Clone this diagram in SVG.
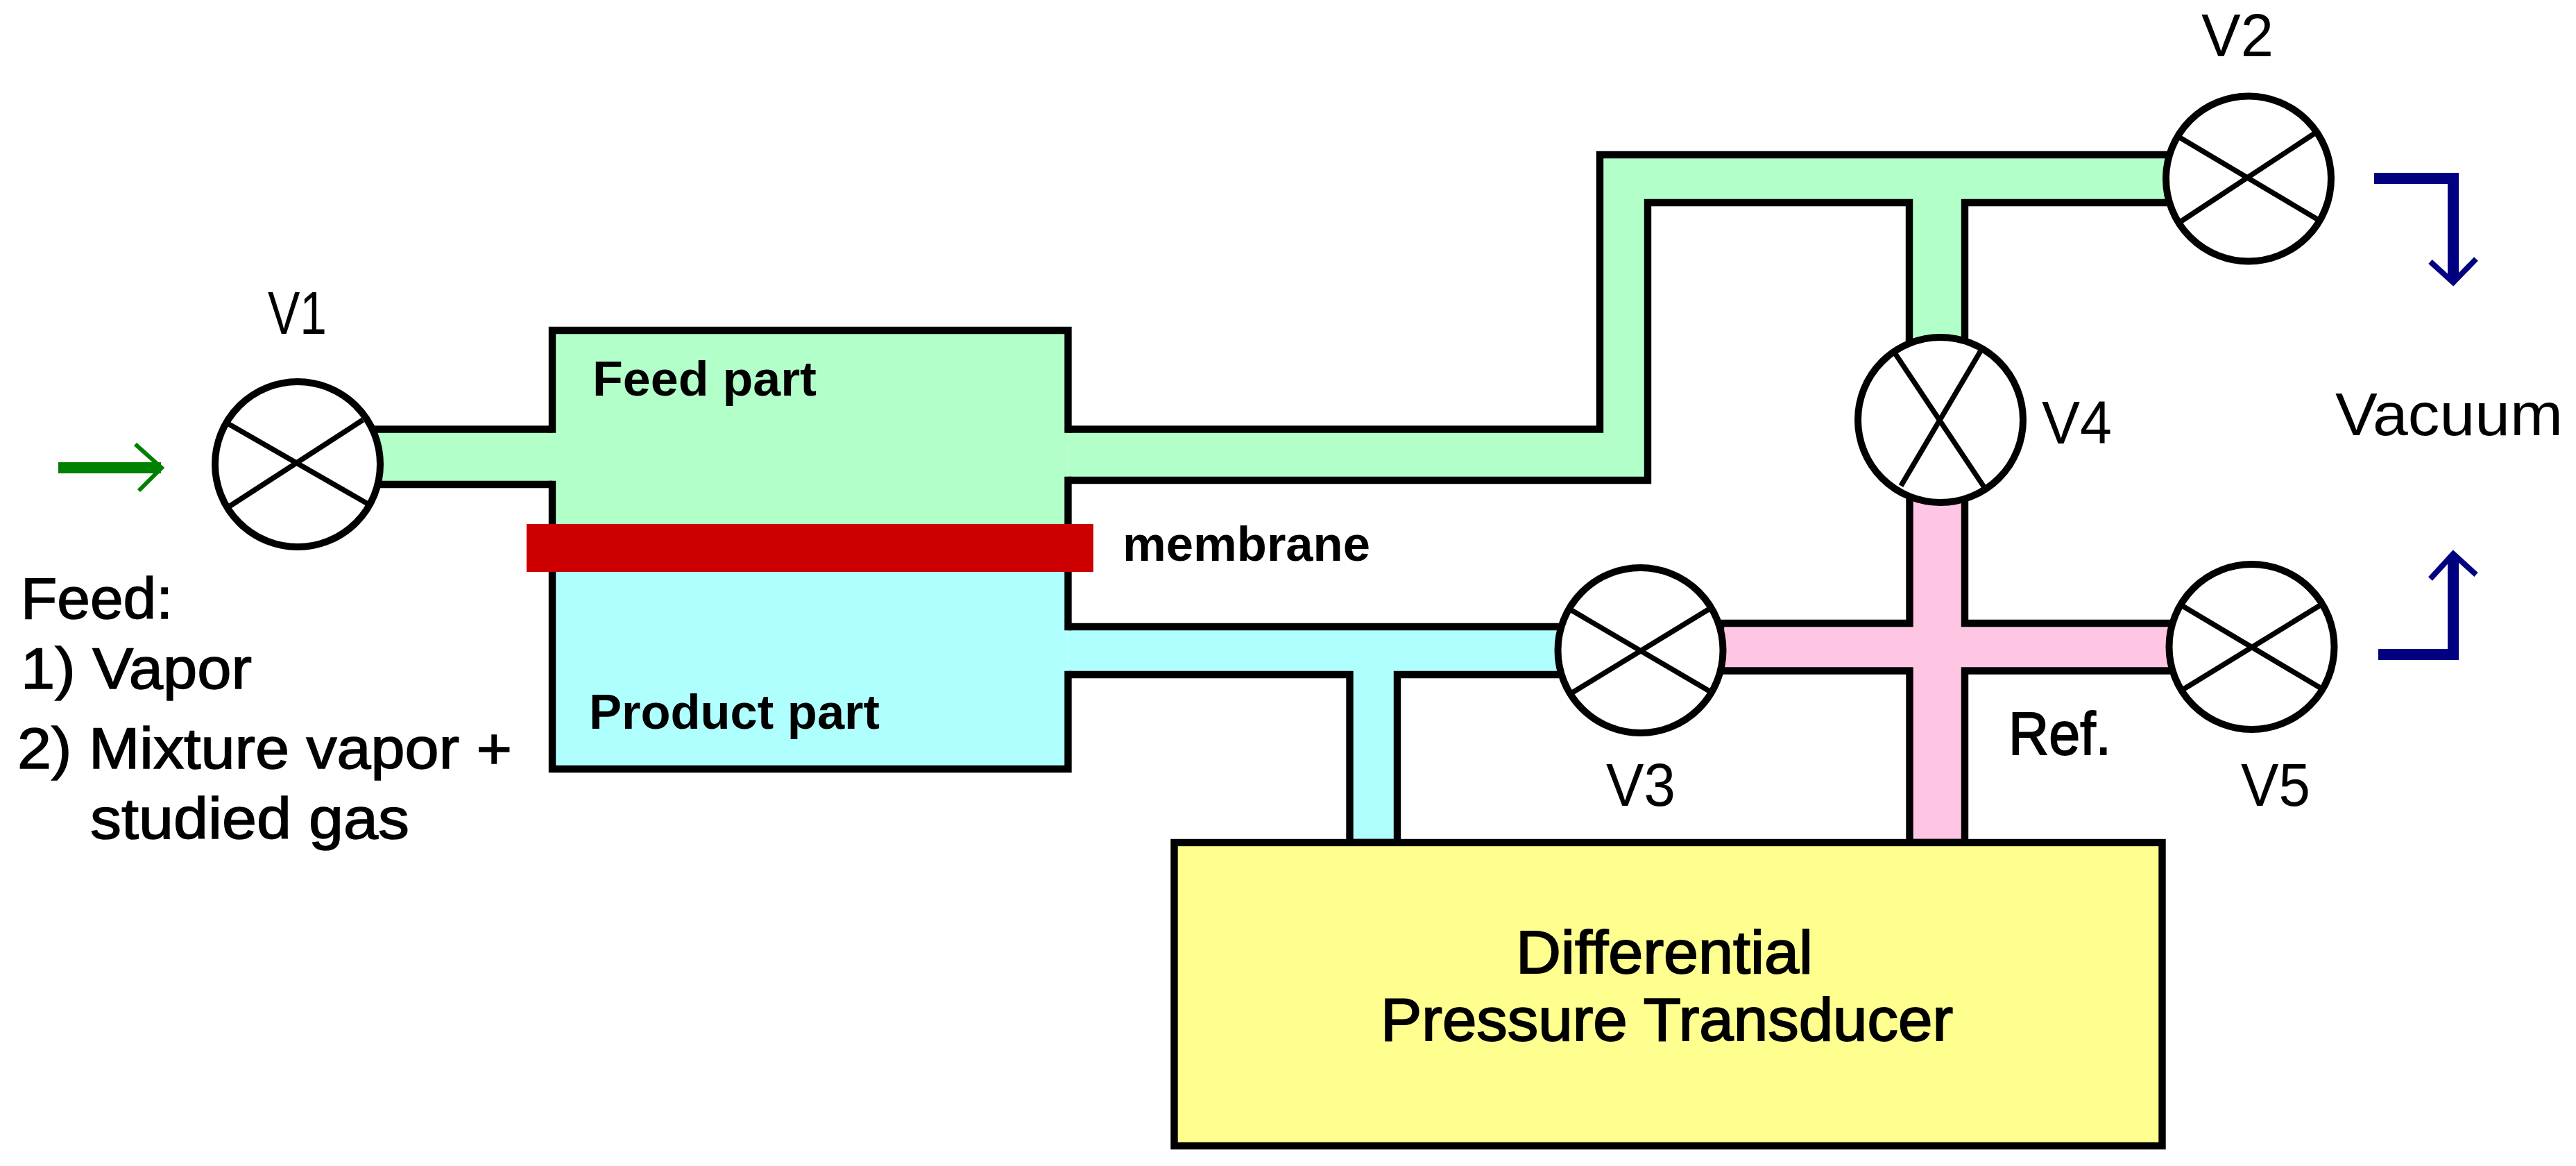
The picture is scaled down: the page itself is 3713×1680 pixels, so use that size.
<svg xmlns="http://www.w3.org/2000/svg" width="3713" height="1680" viewBox="0 0 3713 1680">
<style>
text{font-family:"Liberation Sans",Arial,sans-serif;fill:#000}
.l{font-size:88px}.f{font-size:84px;stroke:#000;stroke-width:1.5px}.b{font-size:70px;font-weight:bold}.d{font-size:88px;stroke:#000;stroke-width:2px}
.pipe{stroke:#000;stroke-width:10.4;stroke-linejoin:miter}
.line{fill:none;stroke:#000;stroke-width:10.4}
.valve circle{fill:#fff;stroke:#000;stroke-width:10}
.valve path{fill:none;stroke:#000;stroke-width:7.5}
.g{fill:#B3FFC9}.c{fill:#B0FFFF}.p{fill:#FFC6E3}
.blue{fill:none;stroke:#000080}.green{fill:none;stroke:#008000}
</style>
<rect width="3713" height="1680" fill="#fff"/>
<g id="connectors">
<path class="pipe g" d="M796,618.5 H530 V698 H796"/>
<path class="pipe g" d="M1539.5,618.5 H2306 V223 H3160 V292 H2832 V500 H2752 V292 H2375 V692 H1539.5"/>
<path class="pipe c" d="M1539.5,903 H2260 V972 H2014 V1214 H1945.5 V972 H1539.5"/>
<path class="pipe p" d="M2480,898 H2752.5 V700 H2832 V898 H3140 V966.5 H2832 V1214 H2752.5 V966.5 H2480 Z"/>
<path class="green" stroke-width="16" d="M84,674 H232"/>
<path class="green" stroke-width="6" d="M195,640 L233,674 L200,707"/>
<path class="blue" stroke-width="16" d="M3422,257 H3536 V405"/>
<path class="blue" stroke-width="8" d="M3503,377 L3536,407 L3569,373"/>
<path class="blue" stroke-width="16" d="M3428,943 H3536 V800"/>
<path class="blue" stroke-width="8" d="M3503,834 L3536,798 L3569,828"/>
</g>
<g id="chamber">
<rect class="g" x="796" y="476" width="743.500" height="314"/>
<rect class="c" x="796" y="790" width="743.500" height="318"/>
<path class="line" d="M796,623.700 V476 H1539.500 V623.700 M1539.500,686.800 V790 M796,692.800 V790 M796,790 V1108 H1539.500 V966.800 M1539.500,908.200 V790"/>
<text class="b" x="854" y="570" textLength="323" lengthAdjust="spacingAndGlyphs">Feed part</text>
<text class="b" x="849" y="1050" textLength="419" lengthAdjust="spacingAndGlyphs">Product part</text>
</g>
<g id="membrane">
<rect x="759" y="755" width="817" height="69" fill="#CC0000"/>
<text class="b" x="1618" y="808" textLength="357" lengthAdjust="spacingAndGlyphs">membrane</text>
</g>
<g id="transducer">
<rect x="1692.500" y="1214" width="1424" height="437" fill="#FFFF8F" stroke="#000" stroke-width="10.400"/>
<text class="d" x="2185" y="1402" textLength="428" lengthAdjust="spacingAndGlyphs">Differential</text>
<text class="d" x="1990" y="1499" textLength="825" lengthAdjust="spacingAndGlyphs">Pressure Transducer</text>
</g>
<g id="V1" class="valve"><circle cx="429" cy="669" r="119"/><path d="M328,610 L532,727 M330,730 L523,605"/><text class="l" x="386" y="481" textLength="85" lengthAdjust="spacingAndGlyphs">V1</text></g>
<g id="V2" class="valve"><circle cx="3241" cy="257.500" r="119"/><path d="M3140,197 L3342,317 M3142,320 L3338,191"/><text class="l" x="3173" y="81" textLength="104" lengthAdjust="spacingAndGlyphs">V2</text></g>
<g id="V3" class="valve"><circle cx="2364.500" cy="937" r="119"/><path d="M2263,878 L2466,997 M2263,1000 L2466,876"/><text class="l" x="2315" y="1161" textLength="100" lengthAdjust="spacingAndGlyphs">V3</text></g>
<g id="V4" class="valve"><circle cx="2797" cy="605" r="119"/><path d="M2732,510 L2860,702 M2740,700 L2857,502"/><text class="l" x="2943" y="639" textLength="101" lengthAdjust="spacingAndGlyphs">V4</text></g>
<g id="V5" class="valve"><circle cx="3245.500" cy="932" r="119"/><path d="M3144,872 L3346,992 M3144,995 L3346,871"/><text class="l" x="3230" y="1161" textLength="100" lengthAdjust="spacingAndGlyphs">V5</text></g>
<g id="labels">
<text class="d" x="2895" y="1087" textLength="148" lengthAdjust="spacingAndGlyphs">Ref.</text>
<text class="l" x="3366" y="627" textLength="328" lengthAdjust="spacingAndGlyphs">Vacuum</text>
<text class="f" x="30" y="891" textLength="219" lengthAdjust="spacingAndGlyphs">Feed:</text>
<text class="f" x="30" y="992" textLength="333" lengthAdjust="spacingAndGlyphs">1) Vapor</text>
<text class="f" x="25" y="1107" textLength="713" lengthAdjust="spacingAndGlyphs">2) Mixture vapor +</text>
<text class="f" x="130" y="1208" textLength="460" lengthAdjust="spacingAndGlyphs">studied gas</text>
</g>
</svg>
